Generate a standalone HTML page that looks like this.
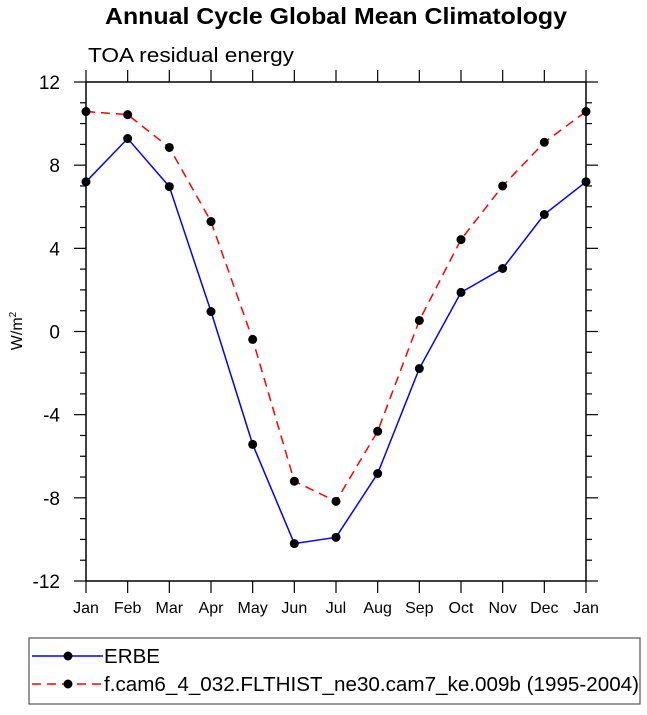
<!DOCTYPE html>
<html><head><meta charset="utf-8"><style>
body{margin:0;background:#fff;}
svg text{font-family:"Liberation Sans",sans-serif;fill:#000;}
</style></head><body>
<svg id="c" width="647" height="710" xmlns="http://www.w3.org/2000/svg">
<text x="105" y="24" font-size="23" font-weight="bold" textLength="462" lengthAdjust="spacingAndGlyphs">Annual Cycle Global Mean Climatology</text>
<text x="88" y="62" font-size="20" textLength="206" lengthAdjust="spacingAndGlyphs">TOA residual energy</text>
<text transform="translate(22,331) rotate(-90)" font-size="16" text-anchor="middle">W/m<tspan font-size="10" dy="-6">2</tspan></text>
<g id="axes"></g>
<g id="series"></g>
<rect x="29" y="638" width="611" height="66" fill="none" stroke="#555" stroke-width="1.2"/>
<g>
<line x1="32" y1="656" x2="103" y2="656" stroke="#0000ff" stroke-width="1.5"/>
<circle cx="68" cy="656" r="4.5" fill="#000"/>
<text x="104" y="663" font-size="20" textLength="56" lengthAdjust="spacingAndGlyphs">ERBE</text></g>
<g>
<line x1="32" y1="684" x2="103" y2="684" stroke="#ff0000" stroke-width="1.5" stroke-dasharray="9,6"/>
<circle cx="68" cy="684" r="4.5" fill="#000"/>
<text x="104" y="691" font-size="20" textLength="535" lengthAdjust="spacingAndGlyphs">f.cam6_4_032.FLTHIST_ne30.cam7_ke.009b (1995-2004)</text></g>
</svg>
<script>
const months=["Jan","Feb","Mar","Apr","May","Jun","Jul","Aug","Sep","Oct","Nov","Dec","Jan"];
const erbe=[7.2,9.28,6.97,0.96,-5.43,-10.2,-9.9,-6.83,-1.78,1.88,3.03,5.63,7.2];
const model=[10.58,10.43,8.85,5.29,-0.38,-7.2,-8.17,-4.8,0.53,4.42,7.0,9.1,10.58];
const yTicks=[-12,-8,-4,0,4,8,12];
const L=86,R=586,T=82,B=581,yMin=-12,yMax=12;
const NS="http://www.w3.org/2000/svg";
const xs=i=>L+i*(R-L)/12;
const ys=v=>B-(v-yMin)*(B-T)/(yMax-yMin);
function mk(tag,at,parent){const e=document.createElementNS(NS,tag);for(const k in at)e.setAttribute(k,at[k]);parent.appendChild(e);return e;}
const ax=document.getElementById('axes');
const fr=mk('rect',{x:L,y:T,width:R-L,height:B-T,fill:'none',stroke:'#000','stroke-width':1.5},ax);


for(let v=yMin;v<=yMax;v++){
  const maj=(v%4===0);const len=maj?12:6;
  mk('line',{x1:L-len,x2:L,y1:ys(v),y2:ys(v),stroke:'#000','stroke-width':1.2},ax);
  mk('line',{x1:R,x2:R+len,y1:ys(v),y2:ys(v),stroke:'#000','stroke-width':1.2},ax);
}
yTicks.forEach(v=>{
  const t=mk('text',{x:L-26,y:ys(v)+7,'font-size':19,'text-anchor':'end'},ax);
  t.textContent=v;
  
  
});
months.forEach((m,i)=>{
  mk('line',{x1:xs(i),x2:xs(i),y1:B,y2:B+12,stroke:'#000','stroke-width':1.2},ax);
  mk('line',{x1:xs(i),x2:xs(i),y1:T-12,y2:T,stroke:'#000','stroke-width':1.2},ax);
  const t=mk('text',{x:xs(i),y:B+32,'font-size':16,'text-anchor':'middle'},ax);
  t.textContent=m;
  
  
});
const sg=document.getElementById('series');
function series(vals,color,dash,name){
  const p=mk('polyline',{points:vals.map((v,i)=>xs(i)+','+ys(v)).join(' '),fill:'none',stroke:color,'stroke-width':1.5,'stroke-dasharray':dash},sg);
  
  
  vals.forEach((v,i)=>{
    const c=mk('circle',{cx:xs(i),cy:ys(v),r:4.5,fill:'#000'},sg);
    
    
  });
}
series(model,'#ff0000','9,6','model');
series(erbe,'#0000ff','none','erbe');
</script>
</body></html>
